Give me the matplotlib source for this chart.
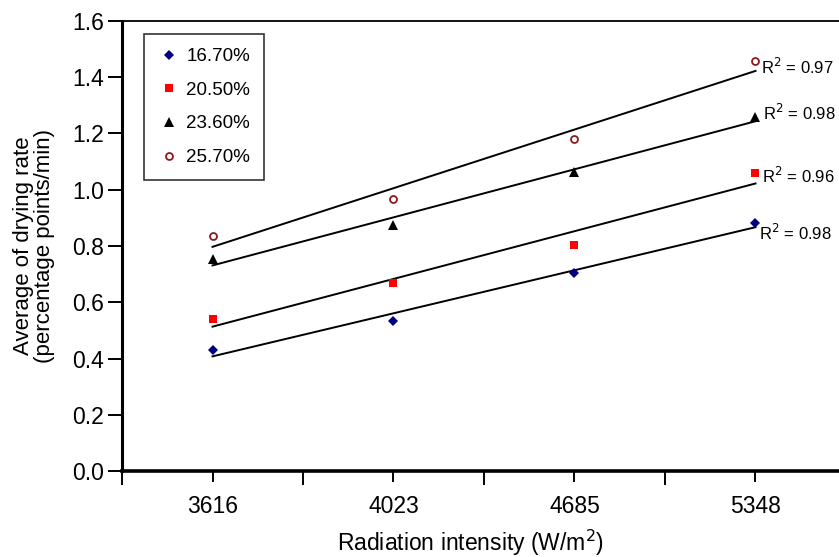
import numpy as np
import matplotlib
matplotlib.use("Agg")
import matplotlib.pyplot as plt

plt.rcParams['font.family'] = ['Liberation Sans', 'DejaVu Sans']

categories = ["3616", "4023", "4685", "5348"]
series_names = ["16.70%", "20.50%", "23.60%", "25.70%"]
s1 = [0.430, 0.532, 0.704, 0.883]
s2 = [0.540, 0.668, 0.802, 1.061]
s3 = [0.753, 0.873, 1.064, 1.259]
s4 = [0.834, 0.967, 1.180, 1.458]
r2_labels = ["0.98", "0.96", "0.98", "0.97"]

values = [s1, s2, s3, s4]
markers = ['D', 's', '^', 'o']
colors = ['#000080', '#FF0000', '#000000', '#8B1A1A']
msizes = [5, 6, 7, 5]
offsets = [(4, -10), (7, -3), (8, 4), (6, -6)]

W, H = 839, 557
fig = plt.figure(figsize=(W / 100, H / 100), dpi=100)
left, right, bottom, top = 122, 846, 471, 21
ax = fig.add_axes([left / W, (H - bottom) / H, (right - left) / W, (bottom - top) / H])

x = np.arange(1, len(categories) + 1)
handles = []
for vals, m, c, ms, name, off, r2 in zip(values, markers, colors, msizes, series_names, offsets, r2_labels):
    if m == 'o':
        h, = ax.plot(x, vals, linestyle='none', marker=m, markersize=ms, markerfacecolor='white',
                     markeredgecolor=c, markeredgewidth=1.3, label=name, zorder=3)
    else:
        h, = ax.plot(x, vals, linestyle='none', marker=m, markersize=ms, color=c,
                     markeredgewidth=0, label=name, zorder=3)
    handles.append(h)
    k, b = np.polyfit(x, vals, 1)
    ax.plot(x, k * x + b, color='black', linewidth=1.4, zorder=2)
    ax.annotate(r"R$^2$ = " + r2, xy=(x[-1], vals[-1]), xytext=off, textcoords='offset pixels',
                ha='left', va='center', fontsize=12)

ax.set_xlim(0.5, len(categories) + 0.5)
ax.set_ylim(0, 1.6)
ax.set_xticks(x)
ax.set_xticklabels(categories)
ax.set_xticks(np.arange(0.5, len(categories) + 1, 1.0), minor=True)
ax.set_yticks(np.arange(0, 1.61, 0.2))
ax.set_yticklabels([f"{v:.1f}" for v in np.arange(0, 1.61, 0.2)])

ax.tick_params(axis='both', which='major', labelsize=16.5, direction='out', width=1.4, color='black')
ax.tick_params(axis='x', which='major', length=8, pad=9)
ax.tick_params(axis='x', which='minor', length=10, width=1.4)
ax.tick_params(axis='y', which='major', length=10, pad=3)

ax.spines['left'].set_linewidth(2.2)
ax.spines['bottom'].set_linewidth(2.6)
ax.spines['top'].set_linewidth(1.3)
ax.spines['right'].set_visible(False)

ax.set_xlabel("Radiation intensity (W/m$^2$)", fontsize=16.5)
ax.xaxis.set_label_coords((471 - left) / (right - left), -(543 - bottom) / (bottom - top))
ax.xaxis.label.set_va('center')
ax.set_ylabel("Average of drying rate\n(percentage points/min)", fontsize=16, labelpad=12,
              linespacing=1.0)

leg = ax.legend(handles=handles, loc='upper left', bbox_to_anchor=((144 - left) / (right - left), 1 - (34 - top) / (bottom - top)),
                fontsize=13.5, frameon=True, fancybox=False, edgecolor='black', borderaxespad=0,
                handletextpad=0.3, labelspacing=0.88, handlelength=1.2, borderpad=0.75)
leg.get_frame().set_linewidth(1.2)

fig.savefig("out.png", dpi=100)
